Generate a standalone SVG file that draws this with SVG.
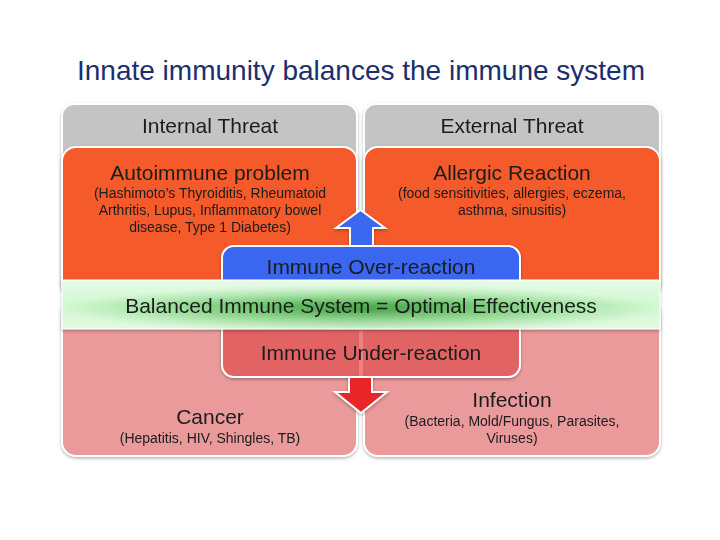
<svg xmlns="http://www.w3.org/2000/svg" width="720" height="540" viewBox="0 0 720 540">
<defs>
<style>
text{font-family:"Liberation Sans",Arial,sans-serif;text-anchor:middle;fill:#1c1c1c}
.t{font-size:28px;fill:#1b2f6e}
.h{font-size:21px}
.s{font-size:14px}
.box{stroke:#ffffff;stroke-width:2}
</style>
<radialGradient id="g" cx="0.5" cy="0.6" r="0.5">
<stop offset="0" stop-color="#3c9f3c"/>
<stop offset="0.45" stop-color="#78cc78"/>
<stop offset="0.8" stop-color="#b4eab4"/>
<stop offset="1" stop-color="#d2f8d2"/>
</radialGradient>
<linearGradient id="gv" x1="0" y1="0" x2="0" y2="1">
<stop offset="0" stop-color="#ffffff" stop-opacity="0.45"/>
<stop offset="0.5" stop-color="#ffffff" stop-opacity="0"/>
<stop offset="1" stop-color="#ffffff" stop-opacity="0.35"/>
</linearGradient>
<filter id="sh" x="-5%" y="-5%" width="110%" height="115%">
<feDropShadow dx="0" dy="1.5" stdDeviation="1.5" flood-color="#000" flood-opacity="0.3"/>
</filter>
</defs>
<rect width="720" height="540" fill="#ffffff"/>
<text class="t" x="361" y="80">Innate immunity balances the immune system</text>

<g id="internal-threat" filter="url(#sh)">
<rect class="box" x="62" y="104" width="295" height="190" rx="12" fill="#c4c4c4"/>
<text class="h" x="210" y="133">Internal Threat</text>
</g>
<g id="external-threat" filter="url(#sh)">
<rect class="box" x="364" y="104" width="296" height="190" rx="12" fill="#c4c4c4"/>
<text class="h" x="512" y="133">External Threat</text>
</g>

<g id="autoimmune" filter="url(#sh)">
<rect class="box" x="62" y="147" width="295" height="150" rx="14" fill="#f45a2c"/>
<text class="h" x="210" y="180">Autoimmune problem</text>
<text class="s" x="210" y="198">(Hashimoto’s Thyroiditis, Rheumatoid</text>
<text class="s" x="210" y="215">Arthritis, Lupus, Inflammatory bowel</text>
<text class="s" x="210" y="232">disease, Type 1 Diabetes)</text>
</g>
<g id="allergic" filter="url(#sh)">
<rect class="box" x="364" y="147" width="296" height="150" rx="14" fill="#f45a2c"/>
<text class="h" x="512" y="180">Allergic Reaction</text>
<text class="s" x="512" y="198">(food sensitivities, allergies, eczema,</text>
<text class="s" x="512" y="215">asthma, sinusitis)</text>
</g>

<g id="cancer" filter="url(#sh)">
<rect class="box" x="62" y="300" width="295" height="156" rx="14" fill="#ea9a9a"/>
<text class="h" x="210" y="424">Cancer</text>
<text class="s" x="210" y="443">(Hepatitis, HIV, Shingles, TB)</text>
</g>
<g id="infection" filter="url(#sh)">
<rect class="box" x="364" y="300" width="296" height="156" rx="14" fill="#ea9a9a"/>
<text class="h" x="512" y="407">Infection</text>
<text class="s" x="512" y="426">(Bacteria, Mold/Fungus, Parasites,</text>
<text class="s" x="512" y="443">Viruses)</text>
</g>

<g id="connectors">
<path class="box" d="M350,246 V228 H336 L360.5,210 L385,228 H373 V246 Z" fill="#3a68ee" filter="url(#sh)"/>
</g>

<g id="over-reaction" filter="url(#sh)">
<rect class="box" x="222" y="246" width="298" height="50" rx="12" fill="#3a66f0"/>
<text class="h" x="371" y="274">Immune Over-reaction</text>
</g>

<g id="under-reaction" filter="url(#sh)">
<rect class="box" x="222" y="310" width="298" height="67" rx="12" fill="#e16464"/>
<line x1="361" y1="331" x2="361" y2="376" stroke="#e98282" stroke-width="4"/>
<text class="h" x="371" y="360">Immune Under-reaction</text>
</g>

<g id="connectors-down">
<path class="box" d="M349,377 V392 H335 L361,413 L387,392 H372 V377 Z" fill="#e8262a" filter="url(#sh)"/>
</g>

<g id="balanced" filter="url(#sh)">
<rect x="62" y="280" width="598" height="49" fill="url(#g)" stroke="#ffffff" stroke-width="1"/>
<rect x="62" y="280" width="598" height="49" fill="url(#gv)"/>
<text class="h" x="361" y="313">Balanced Immune System = Optimal Effectiveness</text>
</g>
</svg>
